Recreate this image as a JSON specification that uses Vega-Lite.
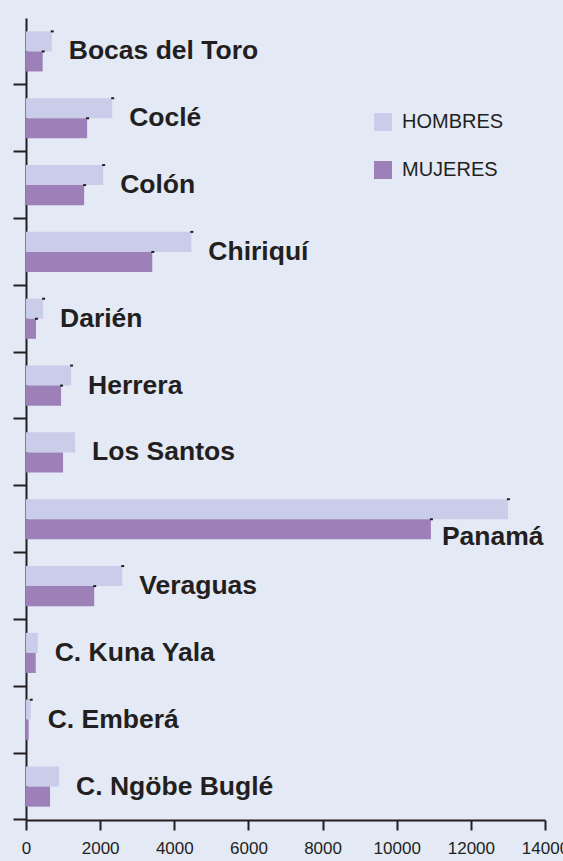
{
  "$schema": "https://vega.github.io/schema/vega-lite/v6.json",
  "width": 519,
  "height": 802,
  "autosize": {"type": "none"},
  "padding": {"left": 26, "top": 18, "right": 18, "bottom": 41},
  "background": "#e3e9f5",
  "config": {"view": {"stroke": null}, "font": "Arial"},
  "data": {
    "values": [
      {"region": "Bocas del Toro", "sexo": "HOMBRES", "valor": 695},
      {"region": "Bocas del Toro", "sexo": "MUJERES", "valor": 450},
      {"region": "Coclé", "sexo": "HOMBRES", "valor": 2325},
      {"region": "Coclé", "sexo": "MUJERES", "valor": 1649},
      {"region": "Colón", "sexo": "HOMBRES", "valor": 2081},
      {"region": "Colón", "sexo": "MUJERES", "valor": 1568},
      {"region": "Chiriquí", "sexo": "HOMBRES", "valor": 4460},
      {"region": "Chiriquí", "sexo": "MUJERES", "valor": 3406},
      {"region": "Darién", "sexo": "HOMBRES", "valor": 460},
      {"region": "Darién", "sexo": "MUJERES", "valor": 270},
      {"region": "Herrera", "sexo": "HOMBRES", "valor": 1216},
      {"region": "Herrera", "sexo": "MUJERES", "valor": 946},
      {"region": "Los Santos", "sexo": "HOMBRES", "valor": 1324},
      {"region": "Los Santos", "sexo": "MUJERES", "valor": 1000},
      {"region": "Panamá", "sexo": "HOMBRES", "valor": 13000},
      {"region": "Panamá", "sexo": "MUJERES", "valor": 10922},
      {"region": "Veraguas", "sexo": "HOMBRES", "valor": 2595},
      {"region": "Veraguas", "sexo": "MUJERES", "valor": 1840},
      {"region": "C. Kuna Yala", "sexo": "HOMBRES", "valor": 316},
      {"region": "C. Kuna Yala", "sexo": "MUJERES", "valor": 262},
      {"region": "C. Emberá", "sexo": "HOMBRES", "valor": 127},
      {"region": "C. Emberá", "sexo": "MUJERES", "valor": 73},
      {"region": "C. Ngöbe Buglé", "sexo": "HOMBRES", "valor": 892},
      {"region": "C. Ngöbe Buglé", "sexo": "MUJERES", "valor": 649}
    ]
  },
  "encoding": {
    "y": {
      "field": "region",
      "type": "nominal",
      "sort": ["Bocas del Toro", "Coclé", "Colón", "Chiriquí", "Darién", "Herrera", "Los Santos", "Panamá", "Veraguas", "C. Kuna Yala", "C. Emberá", "C. Ngöbe Buglé"],
      "scale": {"paddingInner": 0.4, "paddingOuter": 0.2},
      "axis": {
        "title": null,
        "labels": false,
        "grid": false,
        "domainColor": "#231f20",
        "domainWidth": 2,
        "tickColor": "#231f20",
        "tickWidth": 2,
        "tickSize": 13,
        "bandPosition": 1.3333
      }
    },
    "x": {
      "field": "valor",
      "type": "quantitative",
      "scale": {"domain": [0, 14000], "nice": false},
      "axis": {
        "values": [0, 2000, 4000, 6000, 8000, 10000, 12000, 14000],
        "format": "d",
        "title": null,
        "grid": false,
        "domainColor": "#231f20",
        "domainWidth": 2,
        "tickColor": "#231f20",
        "tickWidth": 2,
        "tickSize": 10,
        "labelFont": "Arial",
        "labelFontSize": 17,
        "labelColor": "#231f20",
        "labelPadding": 10,
        "labelFlush": false,
        "labelOverlap": false
      }
    }
  },
  "layer": [
    {
      "mark": {"type": "bar", "cornerRadius": 0},
      "encoding": {
        "yOffset": {"field": "sexo", "sort": ["HOMBRES", "MUJERES"], "scale": {"paddingInner": 0, "paddingOuter": 0}},
        "color": {
          "field": "sexo",
          "type": "nominal",
          "scale": {"domain": ["HOMBRES", "MUJERES"], "range": ["#c9cde9", "#9e80b9"]},
          "legend": {
            "title": null,
            "orient": "none",
            "legendX": 347,
            "legendY": 94,
            "padding": 0,
            "symbolType": "square",
            "symbolSize": 324,
            "symbolStrokeWidth": 0,
            "symbolOpacity": 1,
            "labelFont": "Arial",
            "labelFontSize": 20,
            "labelColor": "#231f20",
            "rowPadding": 28,
            "labelOffset": 9
          }
        }
      }
    },
    {
      "transform": [
        {"filter": "indexof(['Los Santos','C. Kuna Yala','C. Ngöbe Buglé'], datum.region) < 0 && !(datum.region == 'C. Emberá' && datum.sexo == 'MUJERES')"}
      ],
      "mark": {"type": "point", "shape": "M-0.1,-1.1 h0.3 v0.2 h-0.3 z", "size": 400, "filled": true, "color": "#231f20", "opacity": 1},
      "encoding": {
        "yOffset": {"field": "sexo", "sort": ["HOMBRES", "MUJERES"], "scale": {"paddingInner": 0, "paddingOuter": 0}}
      }
    },
    {
      "transform": [{"filter": "datum.sexo == 'HOMBRES' && datum.region != 'Panamá'"}],
      "mark": {"type": "text", "align": "left", "baseline": "middle", "dx": 17, "font": "Arial", "fontSize": 26.5, "fontWeight": "bold", "color": "#231f20"},
      "encoding": {"text": {"field": "region"}}
    },
    {
      "transform": [{"filter": "datum.sexo == 'MUJERES' && datum.region == 'Panamá'"}],
      "mark": {"type": "text", "align": "left", "baseline": "middle", "dx": 11, "dy": 18, "font": "Arial", "fontSize": 26.5, "fontWeight": "bold", "color": "#231f20"},
      "encoding": {"text": {"field": "region"}}
    }
  ]
}
